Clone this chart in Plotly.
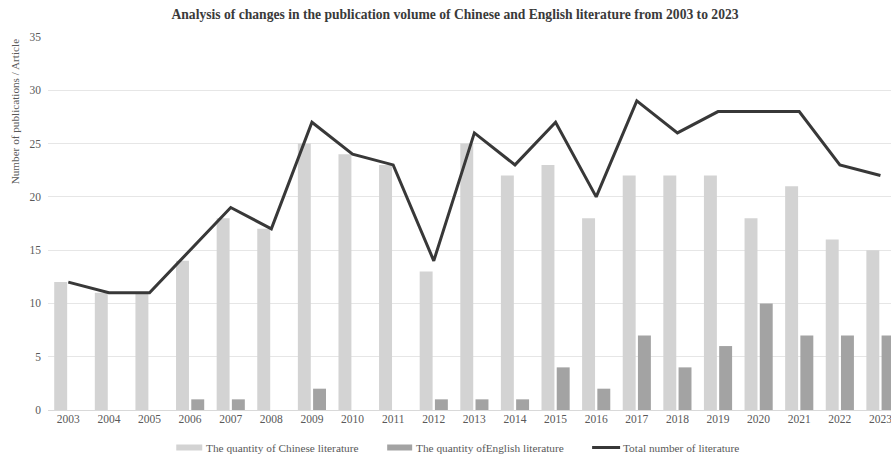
import plotly.graph_objects as go

years = [str(y) for y in range(2003, 2024)]
chinese = [12, 11, 11, 14, 18, 17, 25, 24, 23, 13, 25, 22, 23, 18, 22, 22, 22, 18, 21, 16, 15]
english = [0, 0, 0, 1, 1, 0, 2, 0, 0, 1, 1, 1, 4, 2, 7, 4, 6, 10, 7, 7, 7]
total = [12, 11, 11, 15, 19, 17, 27, 24, 23, 14, 26, 23, 27, 20, 29, 26, 28, 28, 28, 23, 22]

names = ["The quantity of Chinese literature",
         "The quantity ofEnglish literature",
         "Total number of literature"]
c_cn = "#d3d3d3"
c_en = "#a3a3a3"
c_tot = "#383838"
txt = "#595959"
FONT = "Liberation Serif, Times New Roman, serif"

W, H = 891, 457
L, R, T, B = 47.7, 0, 37, 47

fig = go.Figure()
fig.add_trace(go.Bar(x=years, y=chinese, name=names[0], marker=dict(color=c_cn, line=dict(width=0))))
fig.add_trace(go.Bar(x=years, y=english, name=names[1], marker=dict(color=c_en, line=dict(width=0))))
fig.add_trace(go.Scatter(x=years, y=total, name=names[2], mode="lines",
                         line=dict(color=c_tot, width=3)))

fig.update_layout(
    width=W, height=H,
    margin=dict(l=L, r=R, t=T, b=B, pad=0),
    paper_bgcolor="white", plot_bgcolor="white",
    barmode="group", bargap=0.25, bargroupgap=0.15,
    showlegend=False,
    font=dict(family=FONT, color=txt, size=11.5),
    title=dict(text="<b>Analysis of changes in the publication volume of Chinese and English literature from 2003 to 2023</b>",
               x=455 / W, xref="container", xanchor="center", y=1 - 14 / H, yanchor="middle",
               font=dict(family=FONT, size=13.6, color="#3a3a3a")),
)
fig.update_xaxes(type="category", range=[-0.5, 20.26], showgrid=False, showline=False,
                 ticks="", tickfont=dict(size=11.5, color=txt), zeroline=False)
fig.update_yaxes(range=[0, 35], dtick=5, showgrid=True, gridcolor="#e6e6e6", gridwidth=1,
                 zeroline=True, zerolinecolor="#d9d9d9", zerolinewidth=1,
                 showline=False, ticks="", tickfont=dict(size=11.5, color=txt),
                 ticklabelstandoff=6)

pw = W - L - R
ph = H - T - B
def px(x):
    return (x - L) / pw
def py(y):
    return (H - B - y) / ph

# y-axis title
fig.add_annotation(text="Number of publications / Article", textangle=-90,
                   xref="paper", yref="paper", x=px(15), y=py(112),
                   xanchor="center", yanchor="middle", showarrow=False,
                   font=dict(family=FONT, size=11.2, color=txt))

# custom legend
ly = 447.5
fig.add_shape(type="rect", xref="paper", yref="paper", x0=px(176), x1=px(202), y0=py(ly + 3), y1=py(ly - 3),
              fillcolor=c_cn, line=dict(width=0))
fig.add_shape(type="rect", xref="paper", yref="paper", x0=px(387), x1=px(412), y0=py(ly + 3), y1=py(ly - 3),
              fillcolor=c_en, line=dict(width=0))
fig.add_shape(type="line", xref="paper", yref="paper", x0=px(592), x1=px(620), y0=py(ly), y1=py(ly),
              line=dict(color=c_tot, width=3))
for x0, name in [(204, names[0]), (414, names[1]), (621, names[2])]:
    fig.add_annotation(text=name, xref="paper", yref="paper", x=px(x0), y=py(ly),
                       xanchor="left", yanchor="middle", showarrow=False,
                       font=dict(family=FONT, size=11.3, color=txt))

fig.write_html("out.html", config={"displayModeBar": False},
               post_script="document.body.style.margin='0px';document.body.style.overflow='hidden';")
